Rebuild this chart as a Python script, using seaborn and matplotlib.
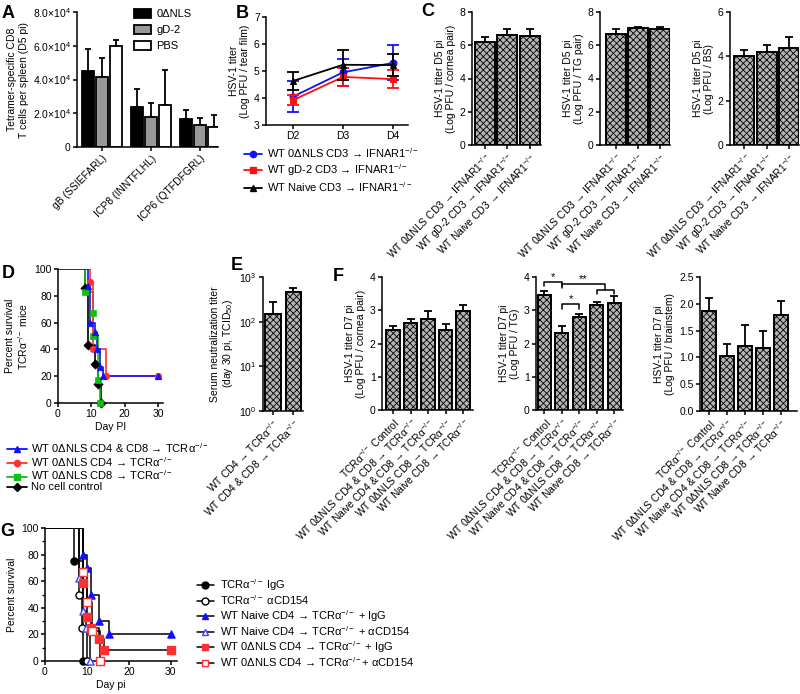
import numpy as np
import pandas as pd
import matplotlib
matplotlib.use("Agg")
import matplotlib.pyplot as plt
from matplotlib.lines import Line2D
from matplotlib.patches import Patch
import seaborn as sns

# ---------------- data ----------------
# Panel A
epitopes = ["gB (SSIEFARL)", "ICP8 (INNTFLHL)", "ICP6 (QTFDFGRL)"]
groupsA = ["0ΔNLS", "gD-2", "PBS"]
a_0dnls = [45000, 23800, 16300]
a_gd2 = [41500, 18000, 13000]
a_pbs = [60000, 25000, 12000]
a_0dnls_err = [13000, 10700, 5400]
a_gd2_err = [11000, 8300, 4000]
a_pbs_err = [3500, 20500, 7000]
a_yticklabels = ["0", "2.0×10$^{4}$", "4.0×10$^{4}$", "6.0×10$^{4}$", "8.0×10$^{4}$"]

# Panel B
days = ["D2", "D3", "D4"]
b_0dnls = [4.05, 4.95, 5.30]
b_0dnls_err = [0.58, 0.50, 0.65]
b_gd2 = [3.92, 4.78, 4.70]
b_gd2_err = [0.18, 0.33, 0.33]
b_naive = [4.63, 5.23, 5.22]
b_naive_err = [0.35, 0.55, 0.40]
b_names = ["WT 0ΔNLS CD3 → IFNAR1$^{-/-}$", "WT gD-2 CD3 → IFNAR1$^{-/-}$",
           "WT Naive CD3 → IFNAR1$^{-/-}$"]

# Panel C
c_labels = ["WT 0ΔNLS CD3 → IFNAR1$^{-/-}$", "WT gD-2 CD3 → IFNAR1$^{-/-}$",
            "WT Naive CD3 → IFNAR1$^{-/-}$"]
c_cornea = [6.20, 6.62, 6.55]
c_cornea_err = [0.30, 0.38, 0.40]
c_tg = [6.70, 7.02, 7.00]
c_tg_err = [0.25, 0.05, 0.07]
c_bs = [4.02, 4.20, 4.38]
c_bs_err = [0.28, 0.32, 0.50]

# Panel D (Kaplan-Meier steps)
d_cd48_t = [0, 9, 9.7, 11, 11.6, 12.6, 13.5, 30]
d_cd48_s = [100, 87, 60, 53, 40, 27, 20, 20]
d_cd4_t = [0, 9.6, 10.4, 14.3, 30]
d_cd4_s = [100, 90, 40, 20, 20]
d_cd8_t = [0, 8, 10.4, 10.6, 11.9, 12.7]
d_cd8_s = [100, 83, 67, 50, 17, 0]
d_ctrl_t = [0, 8, 9, 11, 12, 13]
d_ctrl_s = [100, 86, 43, 29, 14, 0]

# Panel E
e_labels = ["WT CD4 → TCRα$^{-/-}$", "WT CD4 & CD8 → TCRa$^{-/-}$"]
e_titer = [150, 450]
e_titer_err = [125, 120]

# Panel F
f_labels = ["TCRα$^{-/-}$ Control", "WT 0ΔNLS CD4 & CD8 → TCRα$^{-/-}$",
            "WT Naive CD4 & CD8 → TCRα$^{-/-}$", "WT 0ΔNLS CD8 → TCRα$^{-/-}$",
            "WT Naive CD8 → TCRα$^{-/-}$"]
f_cornea = [2.40, 2.62, 2.75, 2.40, 2.98]
f_cornea_err = [0.12, 0.13, 0.22, 0.20, 0.18]
f_tg = [3.45, 2.33, 2.80, 3.17, 3.23]
f_tg_err = [0.13, 0.20, 0.10, 0.08, 0.19]
f_brain = [1.87, 1.02, 1.22, 1.18, 1.80]
f_brain_err = [0.23, 0.23, 0.38, 0.32, 0.25]

# Panel G
g_ko_igg_t = [0, 7, 9]
g_ko_igg_s = [100, 75, 0]
g_ko_cd154_t = [0, 8, 8.8, 10]
g_ko_cd154_s = [100, 50, 25, 0]
g_naive_igg_t = [0, 9, 10.1, 11, 13, 15.2, 30]
g_naive_igg_s = [100, 80, 70, 50, 30, 20, 20]
g_naive_cd154_t = [0, 8, 9, 9.7, 10.8]
g_naive_cd154_s = [100, 62.5, 37.5, 25, 0]
g_0dnls_igg_t = [0, 9, 10.1, 11, 13, 14.1, 30]
g_0dnls_igg_s = [100, 58.3, 33.3, 25, 16.7, 8.3, 8.3]
g_0dnls_cd154_t = [0, 9, 10.1, 11.2, 13.2]
g_0dnls_cd154_s = [100, 66.7, 44.4, 22.2, 0]

# ---------------- style ----------------
sns.set_theme(style="ticks")
plt.rcParams['font.family'] = ['Liberation Sans', 'DejaVu Sans']
plt.rcParams.update({
    'mathtext.fontset': 'custom',
    'mathtext.rm': 'Liberation Sans',
    'mathtext.it': 'Liberation Sans:italic',
    'mathtext.bf': 'Liberation Sans:bold',
    'font.size': 7.5,
    'axes.linewidth': 1.1,
    'xtick.major.width': 1.1, 'ytick.major.width': 1.1,
    'xtick.minor.width': 1.0, 'ytick.minor.width': 1.0,
    'xtick.major.size': 3.0, 'ytick.major.size': 3.0,
    'xtick.labelsize': 7.5, 'ytick.labelsize': 7.5,
    'axes.labelsize': 7.5,
    'xtick.major.pad': 1.5, 'ytick.major.pad': 1.5,
    'hatch.linewidth': 0.6,
    'axes.edgecolor': 'black', 'xtick.color': 'black', 'ytick.color': 'black',
    'text.color': 'black', 'axes.labelcolor': 'black',
})

W, H = 800, 694
fig = plt.figure(figsize=(8, 6.94), dpi=100)


def box(x0, y0, x1, y1):
    return fig.add_axes([x0 / W, 1 - y1 / H, (x1 - x0) / W, (y1 - y0) / H])


def rot_labels(ax):
    for lab in ax.get_xticklabels():
        lab.set_rotation(45)
        lab.set_ha('right')
        lab.set_rotation_mode('anchor')


HATCH = 'xxxxx'
BAR_FACE = '#b4b4b4'


def hatched_bars(ax, labels, vals, errs, width, xlim, ylim, ylabel):
    df = pd.DataFrame({'grp': labels, 'val': vals})
    sns.barplot(data=df, x='grp', y='val', color=BAR_FACE, saturation=1,
                edgecolor='black', linewidth=1.4, hatch=HATCH, width=width,
                errorbar=None, ax=ax)
    ax.errorbar(labels, vals, yerr=[np.zeros(len(vals)), errs], fmt='none',
                ecolor='black', elinewidth=1.3, capsize=2.8, capthick=1.3)
    ax.set_xlim(*xlim)
    ax.set_ylim(*ylim)
    ax.set_xlabel('')
    ax.set_ylabel(ylabel, linespacing=1.15, labelpad=3)
    sns.despine(ax=ax)
    rot_labels(ax)


# ---------------- Panel A ----------------
axA = box(77, 12, 218, 147)
dfA = pd.DataFrame({'epitope': epitopes * 3,
                    'group': np.repeat(groupsA, 3),
                    'value': a_0dnls + a_gd2 + a_pbs})
colsA = ['black', '#999999', 'white']
sns.barplot(data=dfA, x='epitope', y='value', hue='group', palette=colsA,
            saturation=1, width=0.86, gap=0.15, edgecolor='black',
            linewidth=1.3, errorbar=None, ax=axA, legend=False)
for cont, err in zip(axA.containers, [a_0dnls_err, a_gd2_err, a_pbs_err]):
    xs = [b.get_x() + b.get_width() / 2 for b in cont]
    ys = [b.get_height() for b in cont]
    axA.errorbar(xs, ys, yerr=[np.zeros(len(ys)), err], fmt='none',
                 ecolor='black', elinewidth=1.3, capsize=2.5, capthick=1.3,
                 zorder=0.5)
axA.set_xlim(-0.51, 2.37)
axA.set_ylim(0, 80000)
axA.set_yticks([0, 20000, 40000, 60000, 80000])
axA.set_yticklabels(a_yticklabels)
axA.set_xlabel('')
axA.set_ylabel("Tetramer-specific CD8\nT cells per spleen (D5 pi)",
               linespacing=1.15, labelpad=3)
sns.despine(ax=axA)
rot_labels(axA)
hA = [Patch(facecolor=c, edgecolor='black', linewidth=1.3) for c in colsA]
axA.legend(hA, groupsA, loc='upper left', bbox_to_anchor=(134 / W, 1 - 9 / H),
           bbox_transform=fig.transFigure, frameon=False, fontsize=8,
           handlelength=1.5, handleheight=0.9, handletextpad=0.5,
           labelspacing=0.5, borderpad=0, borderaxespad=0)

# ---------------- Panel B ----------------
axB = box(266, 17, 408, 125)
b_series = [(b_0dnls, b_0dnls_err, '#1010ff', 'o'),
            (b_gd2, b_gd2_err, '#ff1010', 's'),
            (b_naive, b_naive_err, 'black', '^')]
for vals, err, col, mk in b_series:
    sns.lineplot(x=days, y=vals, color=col, marker=mk, markersize=5,
                 markeredgecolor=col, linewidth=1.3, ax=axB, sort=False,
                 estimator=None)
    axB.errorbar(days, vals, yerr=err, fmt='none', ecolor=col,
                 elinewidth=1.3, capsize=4, capthick=1.3)
axB.set_xlim(-0.54, 2.3)
axB.set_ylim(3, 7)
axB.set_yticks([3, 4, 5, 6, 7])
axB.set_ylabel("HSV-1 titer\n(Log PFU / tear film)", linespacing=1.15, labelpad=3)
sns.despine(ax=axB)
hB = [Line2D([], [], color=c, marker=m, markersize=4.5, linewidth=1.3)
      for _, _, c, m in b_series]
axB.legend(hB, b_names, loc='upper left', bbox_to_anchor=(244 / W, 1 - 146 / H),
           bbox_transform=fig.transFigure, frameon=False, fontsize=8,
           handlelength=1.6, handletextpad=0.5, labelspacing=0.2,
           borderpad=0, borderaxespad=0)

# ---------------- Panel C ----------------
axC1 = box(472, 12, 541, 145)
hatched_bars(axC1, c_labels, c_cornea, c_cornea_err, 0.89, (-0.58, 2.5), (0, 8),
             "HSV-1 titer D5 pi\n(Log PFU / cornea pair)")
axC1.set_yticks([0, 2, 4, 6, 8])
axC2 = box(600, 12, 670, 145)
hatched_bars(axC2, c_labels, c_tg, c_tg_err, 0.89, (-0.72, 2.45), (0, 8),
             "HSV-1 titer D5 pi\n(Log PFU / TG pair)")
axC2.set_yticks([0, 2, 4, 6, 8])
axC3 = box(730, 12, 799, 145)
hatched_bars(axC3, c_labels, c_bs, c_bs_err, 0.89, (-0.64, 2.45), (0, 6),
             "HSV-1 titer D5 pi\n(Log PFU / BS)")
axC3.set_yticks([0, 2, 4, 6])

# ---------------- Panel D ----------------
axD = box(58, 269, 163, 403)
d_series = [(d_ctrl_t, d_ctrl_s, 'black', 'D', "No cell control"),
            (d_cd8_t, d_cd8_s, '#10c010', 's', "WT 0ΔNLS CD8 → TCRα$^{-/-}$"),
            (d_cd4_t, d_cd4_s, '#ff3030', 'o', "WT 0ΔNLS CD4 → TCRα$^{-/-}$"),
            (d_cd48_t, d_cd48_s, '#1010ff', '^', "WT 0ΔNLS CD4 & CD8 → TCRα$^{-/-}$")]
for t, s, col, mk, _ in d_series:
    sns.lineplot(x=t, y=s, drawstyle='steps-post', color=col, linewidth=1.2,
                 estimator=None, sort=False, ax=axD)
    sns.scatterplot(x=t[1:], y=s[1:], marker=mk, color=col, s=22,
                    edgecolor=col, linewidth=0.5, ax=axD, clip_on=False,
                    zorder=3)
axD.set_xlim(0, 31.5)
axD.set_ylim(0, 100)
axD.set_xticks([0, 10, 20, 30])
axD.set_yticks([0, 20, 40, 60, 80, 100])
axD.set_xlabel("Day PI", labelpad=2)
axD.set_ylabel("Percent survival\nTCRα$^{-/-}$ mice", linespacing=1.15, labelpad=3)
sns.despine(ax=axD)
hD = [Line2D([], [], color=c, marker=m, markersize=4.5, linewidth=1.3)
      for _, _, c, m, _ in d_series[::-1]]
axD.legend(hD, [n for *_, n in d_series[::-1]], loc='upper left',
           bbox_to_anchor=(7 / W, 1 - 441 / H), bbox_transform=fig.transFigure,
           frameon=False, fontsize=8, handlelength=1.8, handletextpad=0.4,
           labelspacing=0.0, borderpad=0, borderaxespad=0)

# ---------------- Panel E ----------------
axE = box(263, 277, 303, 411)
dfE = pd.DataFrame({'grp': e_labels, 'val': e_titer})
sns.barplot(data=dfE, x='grp', y='val', color=BAR_FACE, saturation=1,
            edgecolor='black', linewidth=1.4, hatch=HATCH, width=0.75,
            errorbar=None, ax=axE)
axE.errorbar(e_labels, e_titer, yerr=[np.zeros(2), e_titer_err], fmt='none',
             ecolor='black', elinewidth=1.3, capsize=2.8, capthick=1.3)
axE.set_yscale('log')
axE.set_ylim(1, 1000)
axE.set_xlim(-0.47, 1.46)
axE.yaxis.set_minor_locator(matplotlib.ticker.NullLocator())
axE.set_xlabel('')
axE.set_ylabel("Serum neutralization titer\n(day 30 pi, TCID$_{50}$)",
               linespacing=1.15, labelpad=3)
sns.despine(ax=axE)
rot_labels(axE)

# ---------------- Panel F ----------------
axF1 = box(382, 277, 473, 410)
hatched_bars(axF1, f_labels, f_cornea, f_cornea_err, 0.75, (-0.63, 4.57), (0, 4),
             "HSV-1 titer D7 pi\n(Log PFU / cornea pair)")
axF1.set_yticks([0, 1, 2, 3, 4])
axF2 = box(536, 277, 623, 410)
hatched_bars(axF2, f_labels, f_tg, f_tg_err, 0.75, (-0.47, 4.5), (0, 4),
             "HSV-1 titer D7 pi\n(Log PFU / TG)")
axF2.set_yticks([0, 1, 2, 3, 4])
# significance brackets
kw = dict(color='black', linewidth=1.1, clip_on=False)
axF2.plot([0, 0, 1, 1], [3.72, 3.85, 3.85, 3.72], **kw)
axF2.text(0.5, 3.86, "*", ha='center', va='bottom', fontsize=8)
axF2.plot([1, 1, 3.5, 3.5], [3.66, 3.78, 3.78, 3.6], **kw)
axF2.plot([3, 3, 4, 4], [3.5, 3.6, 3.6, 3.5], **kw)
axF2.text(2.25, 3.79, "**", ha='center', va='bottom', fontsize=8)
axF2.plot([1, 1, 2, 2], [3.05, 3.18, 3.18, 3.05], **kw)
axF2.text(1.5, 3.19, "*", ha='center', va='bottom', fontsize=8)
axF3 = box(700, 277, 797, 411)
hatched_bars(axF3, f_labels, f_brain, f_brain_err, 0.75, (-0.5, 4.9), (0, 2.5),
             "HSV-1 titer D7 pi\n(Log PFU / brainstem)")
axF3.set_yticks([0, 0.5, 1.0, 1.5, 2.0, 2.5])
axF3.yaxis.set_major_formatter(matplotlib.ticker.FormatStrFormatter('%.1f'))

# ---------------- Panel G ----------------
axG = box(45, 528, 177, 661)
g_series = [(g_ko_igg_t, g_ko_igg_s, 'black', 'o', True, "TCRα$^{-/-}$ IgG"),
            (g_ko_cd154_t, g_ko_cd154_s, 'black', 'o', False, "TCRα$^{-/-}$ αCD154"),
            (g_naive_igg_t, g_naive_igg_s, '#1010ff', '^', True,
             "WT Naive CD4 → TCRα$^{-/-}$ + IgG"),
            (g_naive_cd154_t, g_naive_cd154_s, '#4040ff', '^', False,
             "WT Naive CD4 → TCRα$^{-/-}$ + αCD154"),
            (g_0dnls_igg_t, g_0dnls_igg_s, '#ff3030', 's', True,
             "WT 0ΔNLS CD4 → TCRα$^{-/-}$ + IgG"),
            (g_0dnls_cd154_t, g_0dnls_cd154_s, '#ff3030', 's', False,
             "WT 0ΔNLS CD4 → TCRα$^{-/-}$+ αCD154")]
for t, s, col, mk, filled, _ in g_series:
    sns.lineplot(x=t, y=s, drawstyle='steps-post', color='black', linewidth=1.1,
                 estimator=None, sort=False, ax=axG)
for t, s, col, mk, filled, _ in g_series:
    sns.scatterplot(x=t[1:], y=s[1:], marker=mk, s=26,
                    color=col if filled else 'white', edgecolor=col,
                    linewidth=1.0, ax=axG, clip_on=False, zorder=3)
axG.set_xlim(0, 31.5)
axG.set_ylim(0, 100)
axG.set_xticks([0, 10, 20, 30])
axG.set_yticks([0, 20, 40, 60, 80, 100])
axG.yaxis.set_minor_locator(matplotlib.ticker.MultipleLocator(10))
axG.tick_params(axis='y', which='minor', length=2)
axG.set_xlabel("Day pi", labelpad=2)
axG.set_ylabel("Percent survival", labelpad=3)
sns.despine(ax=axG)
hG = [Line2D([], [], color='black', marker=m, markersize=5, linewidth=1.1,
             markerfacecolor=c if f else 'white', markeredgecolor=c)
      for _, _, c, m, f, _ in g_series]
axG.legend(hG, [n for *_, n in g_series], loc='upper left',
           bbox_to_anchor=(197 / W, 1 - 577 / H), bbox_transform=fig.transFigure,
           frameon=False, fontsize=8, handlelength=1.5, handletextpad=0.6,
           labelspacing=0.06, borderpad=0, borderaxespad=0)

# ---------------- panel letters ----------------
for letter, x, y in [("A", 2, 5), ("B", 236, 5), ("C", 421, 3), ("D", 2, 265),
                     ("E", 231, 257), ("F", 333, 268), ("G", 0, 523)]:
    fig.text(x / W, 1 - y / H, letter, fontsize=13, fontweight='bold',
             va='top', ha='left')

fig.savefig("out.png", dpi=100)
